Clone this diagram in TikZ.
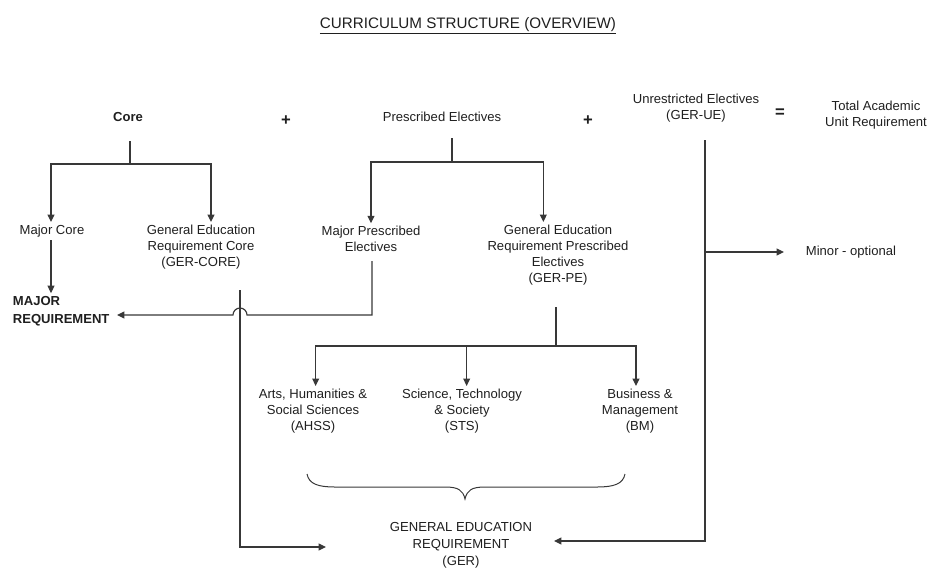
\documentclass[tikz,border=0pt]{standalone}
\usepackage{fontspec}
\setmainfont{Liberation Sans}
\usetikzlibrary{arrows.meta}
\begin{document}
\begin{tikzpicture}[x=0.75pt,y=-0.75pt,
  every node/.style={font=\fontsize{9.8}{12}\selectfont, align=center, text=black!88},
  lbl/.style={inner sep=2pt},
  conn/.style={draw=black!78, line width=0.85pt},
  arr/.style={conn, -{Triangle[width=5.2pt,length=5.6pt]}}]
\useasboundingbox (0,0) rectangle (931,568);

% headings
\node[lbl,font=\fontsize{11.4}{13}\selectfont] (title) at (468,26) {\underline{CURRICULUM STRUCTURE (OVERVIEW)}};
\node[lbl,font=\fontsize{9.8}{12}\selectfont\bfseries] (core) at (128,117) {Core};
\node[lbl,font=\fontsize{12.5}{14}\selectfont\bfseries] (plus1) at (286,121) {+};
\node[lbl] (pe) at (442,117) {Prescribed Electives};
\node[lbl,font=\fontsize{12.5}{14}\selectfont\bfseries] (plus2) at (588,121) {+};
\node[lbl] (ue) at (696,108) {Unrestricted Electives\\(GER-UE)};
\node[lbl,font=\fontsize{12.5}{14}\selectfont\bfseries] (eq) at (780,113) {=};
\node[lbl] (total) at (876,115) {Total Academic\\Unit Requirement};

% second level
\node[lbl] (mc) at (52,231) {Major Core};
\node[lbl,anchor=west,align=left,font=\fontsize{9.8}{13.6}\selectfont\bfseries] (mr) at (10,311) {MAJOR\\REQUIREMENT};
\node[lbl] (gercore) at (201,247) {General Education\\Requirement Core\\(GER-CORE)};
\node[lbl] (mpe) at (371,239) {Major Prescribed\\Electives};
\node[lbl] (gerpe) at (558,255) {General Education\\Requirement Prescribed\\Electives\\(GER-PE)};
\node[lbl,anchor=west] (minor) at (803,252) {Minor - optional};

% GER-PE areas
\node[lbl] (ahss) at (313,411) {Arts, Humanities \&\\Social Sciences\\(AHSS)};
\node[lbl] (sts) at (462,411) {Science, Technology\\\& Society\\(STS)};
\node[lbl] (bm) at (640,411) {Business \&\\Management\\(BM)};
\node[lbl,font=\fontsize{9.8}{12.6}\selectfont] (ger) at (461,545) {GENERAL EDUCATION\\REQUIREMENT\\(GER)};

% junction points
\coordinate (coreS) at (130,141);
\coordinate (coreJ) at (130,164);
\coordinate (peS) at (452,138);
\coordinate (peJ) at (452,162);
\coordinate (mpeS) at (372,261);
\coordinate (mpeT) at (372,315);
\coordinate (hopR) at (247,315);
\coordinate (mrIn) at (117,315);
\coordinate (gcS) at (240,290);
\coordinate (gcB) at (240,547);
\coordinate (gerL) at (326,547);
\coordinate (gpS) at (556,307);
\coordinate (gpJ) at (556,346);
\coordinate (ueS) at (705,140);
\coordinate (ueM) at (705,252);
\coordinate (ueB) at (705,541);
\coordinate (gerR) at (554,541);
\coordinate (minIn) at (784,252);

% Core split
\draw[conn] (coreS) -- (coreJ);
\draw[arr] (coreJ) -| ([xshift=-0.75pt]mc.north);
\draw[arr] (coreJ) -| ([xshift=7.5pt]gercore.north);
\draw[arr] ([xshift=-0.75pt]mc.south) -- ([xshift=-0.75pt]mc.south |- mr.north);

% Prescribed Electives split
\draw[conn] (peS) -- (peJ);
\draw[arr] (peJ) -| (mpe.north);
\draw[arr] (peJ) -| ([xshift=-11pt]gerpe.north);

% Major Prescribed Electives to Major Requirement, hopping over the GER-CORE line
\draw[arr] (mpeS) -- (mpeT) -- (hopR) arc (0:180:5.25pt) -- (mrIn);

% GER-CORE to GER
\draw[arr] (gcS) -- (gcB) -- (gerL);

% GER-PE split into the three areas
\draw[conn] (gpS) -- (gpJ);
\draw[arr] (gpJ) -| ([xshift=2pt]ahss.north);
\draw[arr] (gpJ) -| ([xshift=3.5pt]sts.north);
\draw[arr] (gpJ) -| ([xshift=-3pt]bm.north);

% Unrestricted Electives to GER and Minor
\draw[arr] (ueS) -- (ueB) -- (gerR);
\draw[arr] (ueM) -- (minIn);

% brace grouping the three areas
\draw[conn, line width=0.75pt] (307,474) .. controls (309,484) and (318,487) .. (335,487) -- (445,487)
  .. controls (458,487) and (463,490) .. (465,499)
  .. controls (467,490) and (472,487) .. (485,487) -- (597,487)
  .. controls (614,487) and (623,484) .. (625,474);
\end{tikzpicture}
\end{document}
